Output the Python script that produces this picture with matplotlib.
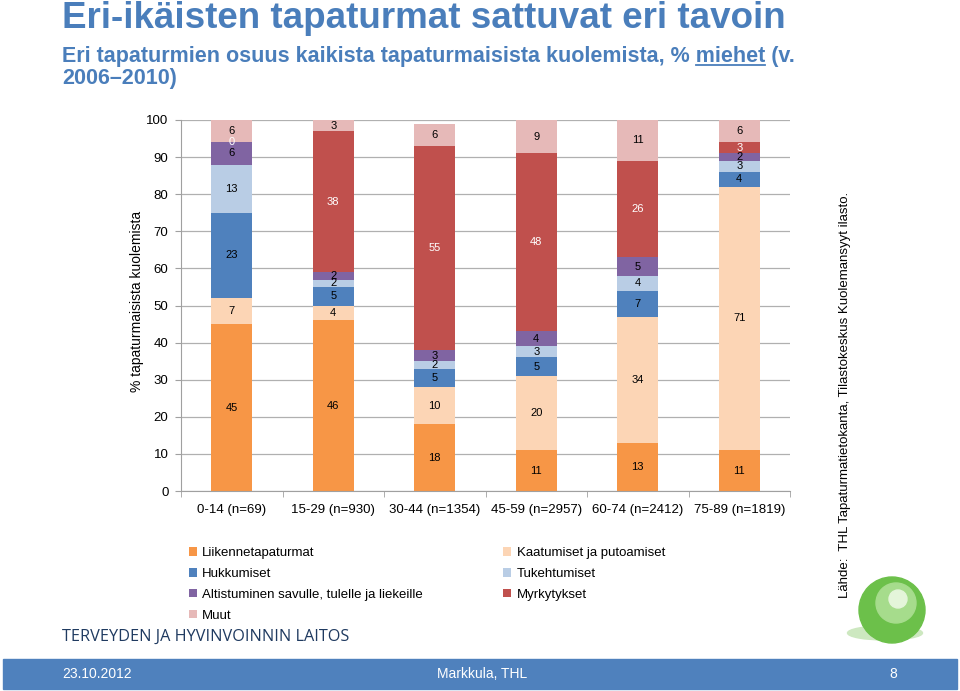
import numpy as np
import matplotlib.pyplot as plt
from matplotlib import font_manager
from matplotlib.patches import Circle, Ellipse, Rectangle

# data: % of male accidental deaths by cause, 2006-2010
groups = ['0-14 (n=69)', '15-29 (n=930)', '30-44 (n=1354)',
          '45-59 (n=2957)', '60-74 (n=2412)', '75-89 (n=1819)']
liikenne = [45, 46, 18, 11, 13, 11]
kaatumiset = [7, 4, 10, 20, 34, 71]
hukkumiset = [23, 5, 5, 5, 7, 4]
tukehtumiset = [13, 2, 2, 3, 4, 3]
altistuminen = [6, 2, 3, 4, 5, 2]
myrkytykset = [0, 38, 55, 48, 26, 3]
muut = [6, 3, 6, 9, 11, 6]

series = [
    ('Liikennetapaturmat', liikenne, '#F79646', 'black'),
    ('Kaatumiset ja putoamiset', kaatumiset, '#FCD5B5', 'black'),
    ('Hukkumiset', hukkumiset, '#4F81BD', 'black'),
    ('Tukehtumiset', tukehtumiset, '#B9CDE5', 'black'),
    ('Altistuminen savulle, tulelle ja liekeille', altistuminen, '#8064A2', 'black'),
    ('Myrkytykset', myrkytykset, '#C0504D', 'white'),
    ('Muut', muut, '#E6B9B8', 'black'),
]

names = {f.name for f in font_manager.fontManager.ttflist}
narrow = 'Liberation Sans Narrow' if 'Liberation Sans Narrow' in names else 'Liberation Sans'
plt.rcParams['font.family'] = ['Liberation Sans', 'DejaVu Sans']

fig = plt.figure(figsize=(9.6, 6.91), dpi=100)
ax = fig.add_axes([181 / 960, 1 - 491 / 691, 609 / 960, 371 / 691])

x = np.arange(len(groups))
bottom = np.zeros(len(groups))
handles = {}
for name, vals, color, tcol in series:
    vals = np.array(vals, dtype=float)
    b = ax.bar(x, vals, 0.4, bottom=bottom, color=color, label=name, zorder=2)
    handles[name] = b
    for xi, v, b0 in zip(x, vals, bottom):
        ax.text(xi, b0 + v / 2, f'{int(v)}', ha='center', va='center',
                fontsize=8, color=tcol, zorder=3)
    bottom += vals

ax.set_xlim(-0.5, len(groups) - 0.5)
ax.set_ylim(0, 100)
ax.set_yticks(np.arange(0, 101, 10))
ax.set_xticks(x)
ax.set_xticklabels(groups, fontsize=9.5)
ax.set_xticks(np.arange(-0.5, len(groups), 1), minor=True)
ax.tick_params(axis='x', which='major', length=0, pad=9)
ax.tick_params(axis='x', which='minor', length=4, color='#A0A0A0', direction='out')
ax.tick_params(axis='y', labelsize=9.5, length=4, color='#A0A0A0', pad=5)
ax.yaxis.grid(True, color='#B0B0B0', linewidth=0.9, zorder=0)
ax.set_axisbelow(True)
for s in ['top', 'right']:
    ax.spines[s].set_visible(False)
for s in ['left', 'bottom']:
    ax.spines[s].set_color('#A0A0A0')
ax.set_ylabel('% tapaturmaisista kuolemista', fontsize=10)
ax.yaxis.set_label_coords(-0.061, 0.51)

# legend, row-major order like the original
order = ['Liikennetapaturmat', 'Hukkumiset',
         'Altistuminen savulle, tulelle ja liekeille', 'Muut',
         'Kaatumiset ja putoamiset', 'Tukehtumiset', 'Myrkytykset']
fig.legend([handles[n] for n in order], order, ncol=2, loc='upper left',
           bbox_to_anchor=(189 / 960, 1 - 547 / 691), frameon=False,
           fontsize=9.5, handlelength=0.6, handleheight=0.6, handletextpad=0.4,
           columnspacing=6.1, labelspacing=0.68, borderpad=0, borderaxespad=0)

# titles
blue = '#4A7EBB'
fig.text(62 / 960, 1 - 28 / 691, 'Eri-ikäisten tapaturmat sattuvat eri tavoin',
         fontsize=26.5, fontweight='bold', color=blue, va='baseline', family=narrow)
line1 = 'Eri tapaturmien osuus kaikista tapaturmaisista kuolemista, % miehet'
sub = dict(fontsize=15.5, fontweight='bold', family=narrow)
t1 = fig.text(62 / 960, 1 - 62 / 691, line1 + ' (v.', color=blue,
              va='baseline', **sub)
fig.text(62 / 960, 1 - 84 / 691, '2006–2010)', color=blue, va='baseline', **sub)

# underline "miehet"
r = fig.canvas.get_renderer()
tmp = fig.text(62 / 960, 1 - 62 / 691, line1, va='baseline', **sub)
tw = fig.text(0, 0, 'miehet', **sub)
x1 = tmp.get_window_extent(r).x1
w = tw.get_window_extent(r).width
tmp.remove()
tw.remove()
yb = (691 - 62 - 3) / 691
fig.add_artist(plt.Line2D([(x1 - w) / 960, x1 / 960], [yb, yb],
                          color=blue, linewidth=1.3))

# source text
fig.text(845 / 960, 1 - 395 / 691,
         'Lähde:  THL Tapaturmatietokanta, Tilastokeskus Kuolemansyyt ilasto.',
         rotation=90, fontsize=9.5, ha='center', va='center')

# logo text
fig.text(62 / 960, 1 - 637 / 691, 'TERVEYDEN JA HYVINVOINNIN LAITOS',
         fontsize=11.7, color='#1F3A60', va='center', family='Open Sans')

# green ball
fig.add_artist(Ellipse((8.85, 0.58), 0.75, 0.14, transform=fig.dpi_scale_trans,
                       color='#CDE8C0', zorder=1))
fig.add_artist(Circle((8.92, 0.81), 0.33, transform=fig.dpi_scale_trans,
                      color='#6CC04A', zorder=2))
fig.add_artist(Circle((8.96, 0.88), 0.2, transform=fig.dpi_scale_trans,
                      color='#A6DC8C', zorder=3))
fig.add_artist(Circle((8.98, 0.92), 0.09, transform=fig.dpi_scale_trans,
                      color='#E4F5DA', zorder=4))

# footer band
fig.add_artist(Rectangle((3 / 960, 2 / 691), 954 / 960, 30 / 691,
                         transform=fig.transFigure, color='#4F81BD', zorder=1))
fig.text(62 / 960, 17 / 691, '23.10.2012', fontsize=10, color='white',
         va='center', family=narrow, zorder=2)
fig.text(482 / 960, 17 / 691, 'Markkula, THL', fontsize=10, color='white',
         va='center', ha='center', family=narrow, zorder=2)
fig.text(893 / 960, 17 / 691, '8', fontsize=10, color='white',
         va='center', ha='center', family=narrow, zorder=2)

fig.savefig('out.png', dpi=100)
